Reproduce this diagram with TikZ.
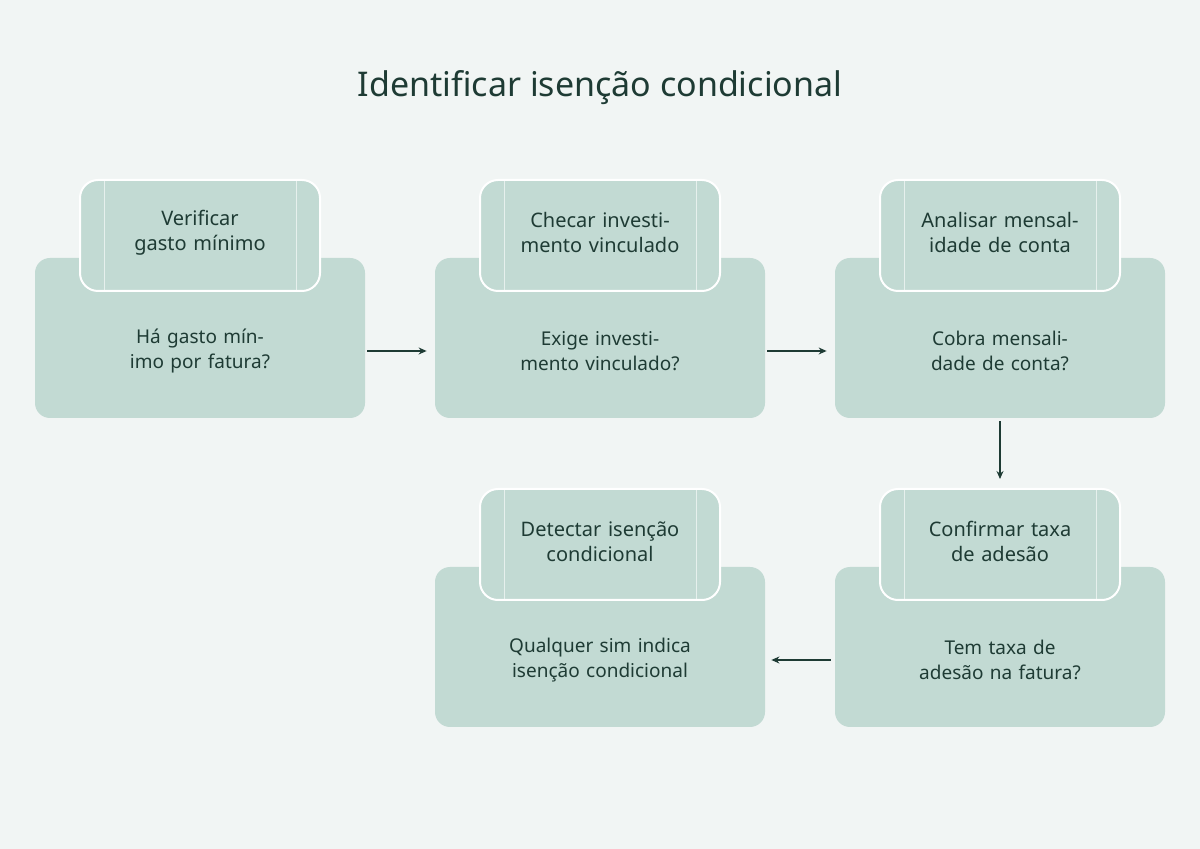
\documentclass[tikz,border=0pt]{standalone}
\usepackage{fontspec}
\setmainfont{Noto Sans}
\usetikzlibrary{positioning,arrows.meta}
\definecolor{bgcol}{HTML}{F1F5F4}
\definecolor{boxcol}{HTML}{C2DAD3}
\definecolor{inkcol}{HTML}{1E3B34}
\tikzset{
  stepbody/.style={draw=none, fill=boxcol, rounded corners=7.5pt,
    minimum width=165pt, minimum height=80pt},
  stephead/.style={draw=white, line width=1pt, fill=boxcol, rounded corners=9pt,
    minimum width=120pt, minimum height=55.5pt},
  headtxt/.style={text=inkcol, font=\bfseries\fontsize{10pt}{12.5pt}\selectfont,
    align=center, text width=100pt},
  bodytxt/.style={text=inkcol, font=\fontsize{9.5pt}{12.5pt}\selectfont,
    align=center, text width=120pt},
  arr/.style={-{Stealth[length=4pt,width=3.5pt]}, draw=inkcol, line width=0.6pt}
}
\newcommand{\stepbox}[6]{% name, x, y (body centre), title, text
  \node[stepbody] (b#1) at (#2,#3) {};
  \node[stephead] (h#1) at (#2,#3-102.5) {};
  \draw[white, opacity=0.6, line width=0.4pt]
    ([xshift=12.5pt]h#1.north west) -- ([xshift=12.5pt]h#1.south west)
    ([xshift=-12.5pt]h#1.north east) -- ([xshift=-12.5pt]h#1.south east);
  \node[headtxt] (l#1) at (#2,#3-102.5+#6) {#4};
  \node[bodytxt] (t#1) at (#2,#3+13) {#5};
}
\begin{document}
\begin{tikzpicture}[x=0.5pt,y=-0.5pt]
  \fill[bgcol] (0,0) rectangle (1200,849);
  \node[text=inkcol, font=\bfseries\fontsize{17pt}{20pt}\selectfont] (title) at (600,88) {Identificar isenção condicional};

  \stepbox{1}{200}{338}{Verificar gasto mínimo}{Há gasto mínimo por fatura?}{-3}
  \stepbox{2}{600}{338}{Checar investimento vinculado}{Exige investimento vinculado?}{-3}
  \stepbox{3}{1000}{338}{Analisar mensalidade de conta}{Cobra mensalidade de conta?}{-3}
  \stepbox{4}{1000}{647}{Confirmar taxa de adesão}{Tem taxa de adesão na fatura?}{-3}
  \stepbox{5}{600}{647}{Detectar isenção condicional}{Qualquer sim indica isenção condicional}{-3}

  \draw[arr] ([xshift=1pt]b1.east |- t1) -- ([xshift=-4pt]b2.west |- t1);
  \draw[arr] ([xshift=1pt]b2.east |- t2) -- ([xshift=-4pt]b3.west |- t2);
  \draw[arr] ([yshift=-1.5pt]b3.south) -- ([yshift=4.5pt]h4.north);
  \draw[arr] ([xshift=-2pt]b4.west |- t4) -- ([xshift=3pt]b5.east |- t4);
\end{tikzpicture}
\end{document}
